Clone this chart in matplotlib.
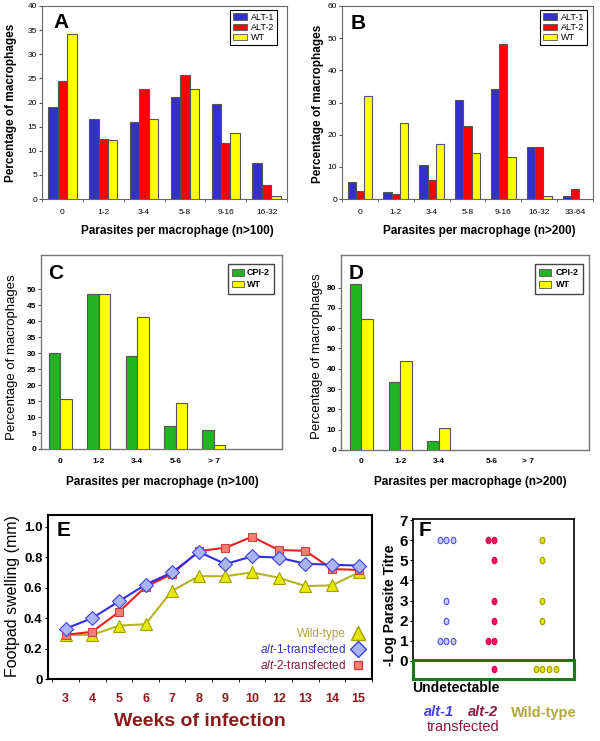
import matplotlib
matplotlib.use('Agg')
import matplotlib.pyplot as plt
import numpy as np
from matplotlib.lines import Line2D
from matplotlib.patches import Patch
from matplotlib.path import Path

plt.rcParams['font.family'] = ['Liberation Sans', 'DejaVu Sans']
plt.rcParams['mathtext.fontset'] = 'custom'
plt.rcParams['mathtext.it'] = 'Liberation Sans:italic'
plt.rcParams['mathtext.rm'] = 'Liberation Sans'

# ---------------- data ----------------
a_cats = ['0', '1-2', '3-4', '5-8', '9-16', '16-32']
a_alt1 = [19.0, 16.6, 16.0, 21.2, 19.7, 7.5]
a_alt2 = [24.4, 12.4, 22.8, 25.7, 11.7, 2.8]
a_wt = [34.3, 12.2, 16.6, 22.8, 13.6, 0.6]

b_cats = ['0', '1-2', '3-4', '5-8', '9-16', '16-32', '33-64']
b_alt1 = [5.3, 2.1, 10.7, 30.7, 34.1, 16.3, 1.0]
b_alt2 = [2.6, 1.7, 5.9, 22.6, 48.2, 16.3, 3.1]
b_wt = [32.0, 23.6, 17.1, 14.3, 13.0, 0.9, 0.0]

c_cats = ['0', '1-2', '3-4', '5-6', '> 7']
c_cpi2 = [30.0, 48.4, 29.1, 7.2, 5.9]
c_wt = [15.7, 48.4, 41.2, 14.5, 1.2]

d_cats = ['0', '1-2', '3-4', '5-6', '> 7']
d_cpi2 = [81.6, 33.3, 4.4, 0.0, 0.0]
d_wt = [64.7, 44.0, 10.7, 0.0, 0.0]

e_weeks = ['3', '4', '5', '6', '7', '8', '9', '10', '12', '13', '14', '15']
e_wt = [0.29, 0.29, 0.35, 0.36, 0.58, 0.675, 0.675, 0.70, 0.665, 0.61, 0.615, 0.70]
e_alt1 = [0.33, 0.40, 0.51, 0.62, 0.70, 0.835, 0.755, 0.805, 0.797, 0.757, 0.75, 0.745]
e_alt2 = [0.29, 0.31, 0.44, 0.605, 0.69, 0.84, 0.862, 0.934, 0.847, 0.842, 0.722, 0.716]

# F: titres per mouse (None = undetectable)
f_alt1 = [6, 6, 6, 3, 2, 1, 1, 1]
f_alt2 = [6, 6, 5, 3, 2, 1, 1, None]
f_wt = [6, 5, 3, 2, None, None, None, None]

BLUE, RED, YEL, GRN = '#3232c8', '#ff0000', '#ffff00', '#22b422'
EDGE = '#555555'

fig = plt.figure(figsize=(6.0, 7.41), dpi=100)
W, H = 600.0, 741.0


def axpx(l, t, r, b):
    return fig.add_axes([l / W, 1 - b / H, (r - l) / W, (b - t) / H])


def ftext(x, y, s, **kw):
    fig.text(x / W, 1 - y / H, s, ha=kw.pop('ha', 'center'), va=kw.pop('va', 'center'), **kw)


def bars(ax, cats, series, colors, width):
    x = np.arange(len(cats))
    n = len(series)
    for i, (vals, c) in enumerate(zip(series, colors)):
        vals = np.asarray(vals, float)
        m = vals > 0
        ax.bar(x[m] + (i - (n - 1) / 2) * width, vals[m], width, color=c,
               edgecolor=EDGE, linewidth=0.8, zorder=3)


def frame(ax, color='#666666', lw=0.8):
    for s in ax.spines.values():
        s.set_color(color)
        s.set_linewidth(lw)


# ---------------- A ----------------
axA = axpx(42, 6, 287, 199)
bars(axA, a_cats, [a_alt1, a_alt2, a_wt], [BLUE, RED, YEL], 0.23)
axA.set_xlim(-0.5, len(a_cats) - 0.5)
axA.set_ylim(0, 40)
axA.set_yticks(np.arange(0, 41, 5))
axA.set_xticks(np.arange(len(a_cats)))
axA.set_xticklabels(a_cats)
axA.set_xticks(np.arange(-0.5, len(a_cats), 1.0), minor=True)
axA.tick_params(axis='x', which='major', length=0, pad=7, labelsize=6)
axA.tick_params(axis='x', which='minor', length=2.5, color=EDGE)
axA.tick_params(axis='y', length=2, pad=1.5, labelsize=6, color=EDGE)
frame(axA)
axA.legend(handles=[Patch(fc=BLUE, ec=EDGE, lw=0.6, label='ALT-1'),
                    Patch(fc=RED, ec=EDGE, lw=0.6, label='ALT-2'),
                    Patch(fc=YEL, ec=EDGE, lw=0.6, label='WT')],
           loc='upper right', bbox_to_anchor=(0.959, 0.979), borderaxespad=0,
           fontsize=6.5, fancybox=False, edgecolor='black', framealpha=1,
           labelspacing=0.15, handlelength=1.6, handleheight=0.7, handletextpad=0.4,
           borderpad=0.3).get_frame().set_linewidth(0.8)
axA.text(0.045, 0.965, 'A', transform=axA.transAxes, ha='left', va='top',
         fontsize=15, fontweight='bold')
ftext(11, 103, 'Percentage of macrophages', rotation=90, fontsize=8.5, fontweight='bold')
ftext(177, 231, 'Parasites per macrophage (n>100)', fontsize=8.5, fontweight='bold')

# ---------------- B ----------------
axB = axpx(342, 6, 593, 199)
bars(axB, b_cats, [b_alt1, b_alt2, b_wt], [BLUE, RED, YEL], 0.23)
axB.set_xlim(-0.5, len(b_cats) - 0.5)
axB.set_ylim(0, 60)
axB.set_yticks(np.arange(0, 61, 10))
axB.set_xticks(np.arange(len(b_cats)))
axB.set_xticklabels(b_cats)
axB.set_xticks(np.arange(-0.5, len(b_cats), 1.0), minor=True)
axB.tick_params(axis='x', which='major', length=0, pad=7, labelsize=6)
axB.tick_params(axis='x', which='minor', length=2.5, color=EDGE)
axB.tick_params(axis='y', length=2, pad=1.5, labelsize=6, color=EDGE)
frame(axB)
axB.legend(handles=[Patch(fc=BLUE, ec=EDGE, lw=0.6, label='ALT-1'),
                    Patch(fc=RED, ec=EDGE, lw=0.6, label='ALT-2'),
                    Patch(fc=YEL, ec=EDGE, lw=0.6, label='WT')],
           loc='upper right', bbox_to_anchor=(0.976, 0.979), borderaxespad=0,
           fontsize=6.5, fancybox=False, edgecolor='black', framealpha=1,
           labelspacing=0.15, handlelength=1.6, handleheight=0.7, handletextpad=0.4,
           borderpad=0.3).get_frame().set_linewidth(0.8)
axB.text(0.036, 0.96, 'B', transform=axB.transAxes, ha='left', va='top',
         fontsize=15, fontweight='bold')
ftext(318, 104, 'Percentage of macrophages', rotation=90, fontsize=8.5, fontweight='bold')
ftext(479, 231, 'Parasites per macrophage (n>200)', fontsize=8.5, fontweight='bold')

# ---------------- C ----------------
axC = axpx(41, 255, 282, 449)
bars(axC, c_cats, [c_cpi2, c_wt], [GRN, YEL], 0.30)
axC.set_xlim(-0.5, 5.77)
axC.set_ylim(0, 60.7)
axC.set_yticks(np.arange(0, 51, 5))
axC.set_xticks(np.arange(len(c_cats)))
axC.set_xticklabels(c_cats)
axC.tick_params(axis='x', length=0, pad=6.5, labelsize=6)
axC.tick_params(axis='y', length=2, pad=1.5, labelsize=6, color=EDGE)
for t in axC.get_xticklabels() + axC.get_yticklabels():
    t.set_fontweight('bold')
frame(axC, '#777777', 1.0)
axC.legend(handles=[Patch(fc=GRN, ec=EDGE, lw=0.6, label='CPI-2'),
                    Patch(fc=YEL, ec=EDGE, lw=0.6, label='WT')],
           loc='upper right', bbox_to_anchor=(0.967, 0.954), borderaxespad=0,
           prop={'size': 6.5, 'weight': 'bold'}, fancybox=False, edgecolor='#444444',
           framealpha=1, labelspacing=0.3, handlelength=1.3, handleheight=0.8,
           handletextpad=0.3, borderpad=0.5).get_frame().set_linewidth(1.0)
axC.text(0.03, 0.955, 'C', transform=axC.transAxes, ha='left', va='top',
         fontsize=15, fontweight='bold')
ftext(12, 357, 'Percentage of macrophages', rotation=90, fontsize=9.5)
ftext(162, 482, 'Parasites per macrophage (n>100)', fontsize=8.5, fontweight='bold')

# ---------------- D ----------------
axD = axpx(341, 255, 589, 450)
bars(axD, d_cats, [d_cpi2, d_wt], [GRN, YEL], 0.30)
axD.set_xlim(-0.53, 5.89)
axD.set_ylim(0, 96)
axD.set_yticks(np.arange(0, 81, 10))
axD.set_xticks([0, 1, 2, 3.38, 4.31])
axD.set_xticklabels(d_cats)
axD.tick_params(axis='x', length=0, pad=6, labelsize=6)
axD.tick_params(axis='y', length=2, pad=1.5, labelsize=6, color=EDGE)
for t in axD.get_xticklabels() + axD.get_yticklabels():
    t.set_fontweight('bold')
frame(axD, '#777777', 1.0)
axD.legend(handles=[Patch(fc=GRN, ec=EDGE, lw=0.6, label='CPI-2'),
                    Patch(fc=YEL, ec=EDGE, lw=0.6, label='WT')],
           loc='upper right', bbox_to_anchor=(0.976, 0.954), borderaxespad=0,
           prop={'size': 6.5, 'weight': 'bold'}, fancybox=False, edgecolor='#444444',
           framealpha=1, labelspacing=0.3, handlelength=1.3, handleheight=0.8,
           handletextpad=0.5, borderpad=0.5).get_frame().set_linewidth(1.0)
axD.text(0.032, 0.955, 'D', transform=axD.transAxes, ha='left', va='top',
         fontsize=15, fontweight='bold')
ftext(317, 356, 'Percentage of macrophages', rotation=90, fontsize=9.5)
ftext(470, 482, 'Parasites per macrophage (n>200)', fontsize=8.5, fontweight='bold')

# ---------------- E ----------------
axE = axpx(48, 515, 372, 679)
xe = np.arange(len(e_weeks))
axE.plot(xe, e_wt, color='#b4b41e', lw=1.5, marker='^', ms=9, mfc='#e6e600',
         mec='#a0a000', mew=0.8, zorder=3)
axE.plot(xe, e_alt2, color='#e82020', lw=1.5, marker='s', ms=5.5, mfc='#f08070',
         mec='#d04040', mew=0.8, zorder=4)
axE.plot(xe, e_alt1, color='#3030e0', lw=1.5, marker='D', ms=7, mfc='#a8b4f4',
         mec='#4040e0', mew=0.8, zorder=5)
axE.set_xlim(-0.66, 11.4)
axE.set_ylim(0, 1.077)
axE.set_yticks([0, 0.2, 0.4, 0.6, 0.8, 1.0])
axE.set_yticklabels(['0', '0.2', '0.4', '0.6', '0.8', '1.0'])
axE.set_xticks(xe)
axE.set_xticklabels(e_weeks)
axE.set_xticks(np.arange(-0.5, len(e_weeks), 1.0), minor=True)
axE.tick_params(axis='x', which='major', length=0, pad=10, labelsize=9,
                labelcolor='#8b1a1a')
axE.tick_params(axis='x', which='minor', length=2.5)
axE.tick_params(axis='y', length=2.5, pad=1.5, labelsize=9.5)
for t in axE.get_xticklabels() + axE.get_yticklabels():
    t.set_fontweight('bold')
frame(axE, 'black', 1.5)
legE = axE.legend(handles=[
    Line2D([], [], ls='none', marker='^', ms=10, mfc='#e6e600', mec='#a0a000'),
    Line2D([], [], ls='none', marker='D', ms=8, mfc='#a8b4f4', mec='#4040e0'),
    Line2D([], [], ls='none', marker='s', ms=6, mfc='#f08070', mec='#d04040')],
    labels=['Wild-type', r'$\mathit{alt}$-$\mathit{1}$-transfected',
            r'$\mathit{alt}$-$\mathit{2}$-transfected'],
    loc='lower right', bbox_to_anchor=(1.0, 0.0), markerfirst=False, frameon=False,
    fontsize=8.5, labelspacing=0.25, handletextpad=0.4, borderaxespad=0.2,
    handlelength=1.2)
for t, c in zip(legE.get_texts(), ['#b0a040', '#3333cc', '#8b1a3a']):
    t.set_color(c)
axE.text(0.028, 0.965, 'E', transform=axE.transAxes, ha='left', va='top',
         fontsize=15, fontweight='bold')
ftext(13, 596, 'Footpad swelling (mm)', rotation=90, fontsize=11.5)
ftext(200, 722, 'Weeks of infection', fontsize=14, fontweight='bold', color='#8b1a1a')

# ---------------- F ----------------
axF = axpx(413, 519, 574, 679)
th = np.linspace(0, 2 * np.pi, 40)
ellipse = Path(np.column_stack([0.75 * np.cos(th), np.sin(th)]), closed=True)
UND = -0.42
specs = [(f_alt1, 2.28, '#c8ccff', '#5050e0'),
         (f_alt2, 3.72, '#ff1060', '#e0004a'),
         (f_wt, 5.17, '#e0e000', '#a0a000')]
for vals, base, fc, ec in specs:
    yv = np.array([UND if v is None else v for v in vals], float)
    for lev in np.unique(yv):
        n = int(np.sum(yv == lev))
        xs = base + (np.arange(n) - min(1, n - 1)) * 0.2
        axF.plot(xs, np.full(n, lev), ls='none', marker=ellipse, ms=4.6, mfc=fc,
                 mec=ec, mew=0.8, zorder=3)
axF.set_xlim(1.28, 6.12)
axF.set_ylim(-0.92, 7.07)
axF.set_yticks(range(0, 8))
axF.set_xticks([])
axF.tick_params(axis='y', length=2.5, pad=1, labelsize=11)
for t in axF.get_yticklabels():
    t.set_fontweight('bold')
frame(axF, 'black', 1.2)
axF.axhspan(-0.92, 0.03, fc='none', ec='#1a7a1a', lw=2.2, zorder=4, clip_on=False)
axF.text(0.037, 0.985, 'F', transform=axF.transAxes, ha='left', va='top',
         fontsize=15, fontweight='bold')
ftext(390, 605, '-Log Parasite Titre', rotation=90, fontsize=10, fontweight='bold')
ftext(412, 688, 'Undetectable', ha='left', fontsize=10, fontweight='bold')
ftext(439, 712, 'alt-1', fontsize=10.5, fontweight='bold', style='italic', color='#4444dd')
ftext(483, 712, 'alt-2', fontsize=10.5, fontweight='bold', style='italic', color='#8b1a3a')
ftext(463, 727, 'transfected', fontsize=10.5, color='#8b1a3a')
ftext(544, 713, 'Wild-type', fontsize=10.5, fontweight='bold', color='#b5a640')

fig.savefig('out.png', dpi=100)
